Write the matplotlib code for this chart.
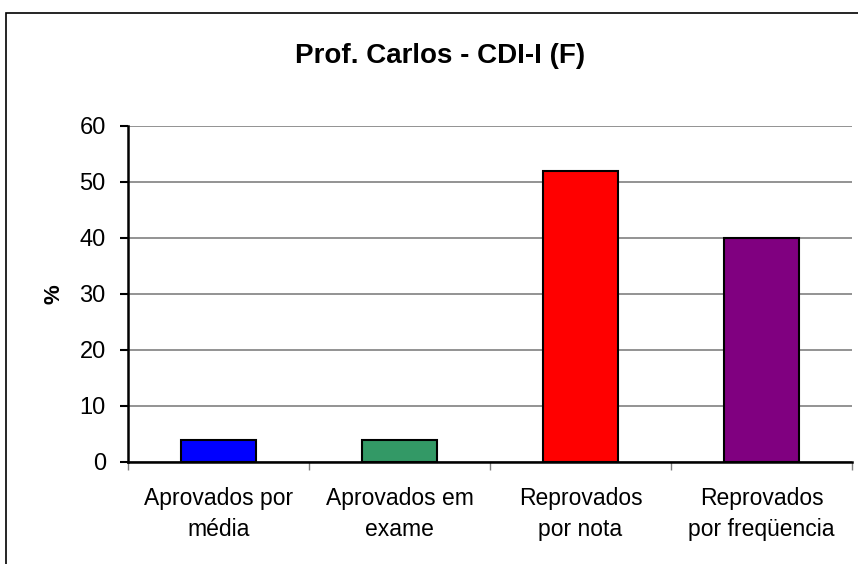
import numpy as np
import matplotlib.pyplot as plt
from matplotlib.patches import Rectangle

plt.rcParams['font.family'] = ['Liberation Sans', 'DejaVu Sans']

categories = ['Aprovados por\nmédia', 'Aprovados em\nexame', 'Reprovados\npor nota', 'Reprovados\npor freqüencia']
values = [4, 4, 52, 40]
colors = ['#0000FF', '#339966', '#FF0000', '#800080']
title = 'Prof. Carlos - CDI-I (F)'

fig = plt.figure(figsize=(8.58, 5.64), dpi=100)
ax = fig.add_axes([128 / 858, 102 / 564, 724 / 858, 336 / 564])

# outer chart frame, runs off the right and bottom edges
fig.patches.append(Rectangle((6 / 858, -0.1), 1.2, (551 / 564) + 0.1, transform=fig.transFigure,
                             fill=False, edgecolor='black', linewidth=1.2, clip_on=False))

x = np.arange(len(values))
ax.bar(x, values, width=0.41, color=colors, edgecolor='black', linewidth=1.5, zorder=3)

ax.set_xlim(-0.5, len(values) - 0.5)
ax.set_ylim(0, 60)
ax.set_yticks(range(0, 61, 10))
ax.yaxis.grid(True, color='#808080', linewidth=1.2, zorder=0)
ax.set_axisbelow(True)

ax.set_xticks(np.arange(-0.5, len(values)), minor=False)
ax.set_xticklabels([])
ax.set_xticks(x, minor=True)
ax.set_xticklabels(categories, minor=True, fontsize=16.5, linespacing=1.45)
ax.tick_params(axis='x', which='major', direction='out', length=6, width=1, color='#808080')
ax.tick_params(axis='x', which='minor', length=0, pad=18)
ax.tick_params(axis='y', direction='out', length=6, width=1.5, labelsize=17, pad=10)

for side in ['top', 'right']:
    ax.spines[side].set_visible(False)
for side in ['left', 'bottom']:
    ax.spines[side].set_linewidth(1.8)

ax.set_ylabel('%', fontsize=16, fontweight='bold')
ax.yaxis.set_label_coords((64 - 128) / 724, 0.5)
fig.text(440 / 858, 1 - 56 / 564, title, ha='center', va='center', fontsize=20, fontweight='bold')

plt.savefig('out.png', dpi=100)
